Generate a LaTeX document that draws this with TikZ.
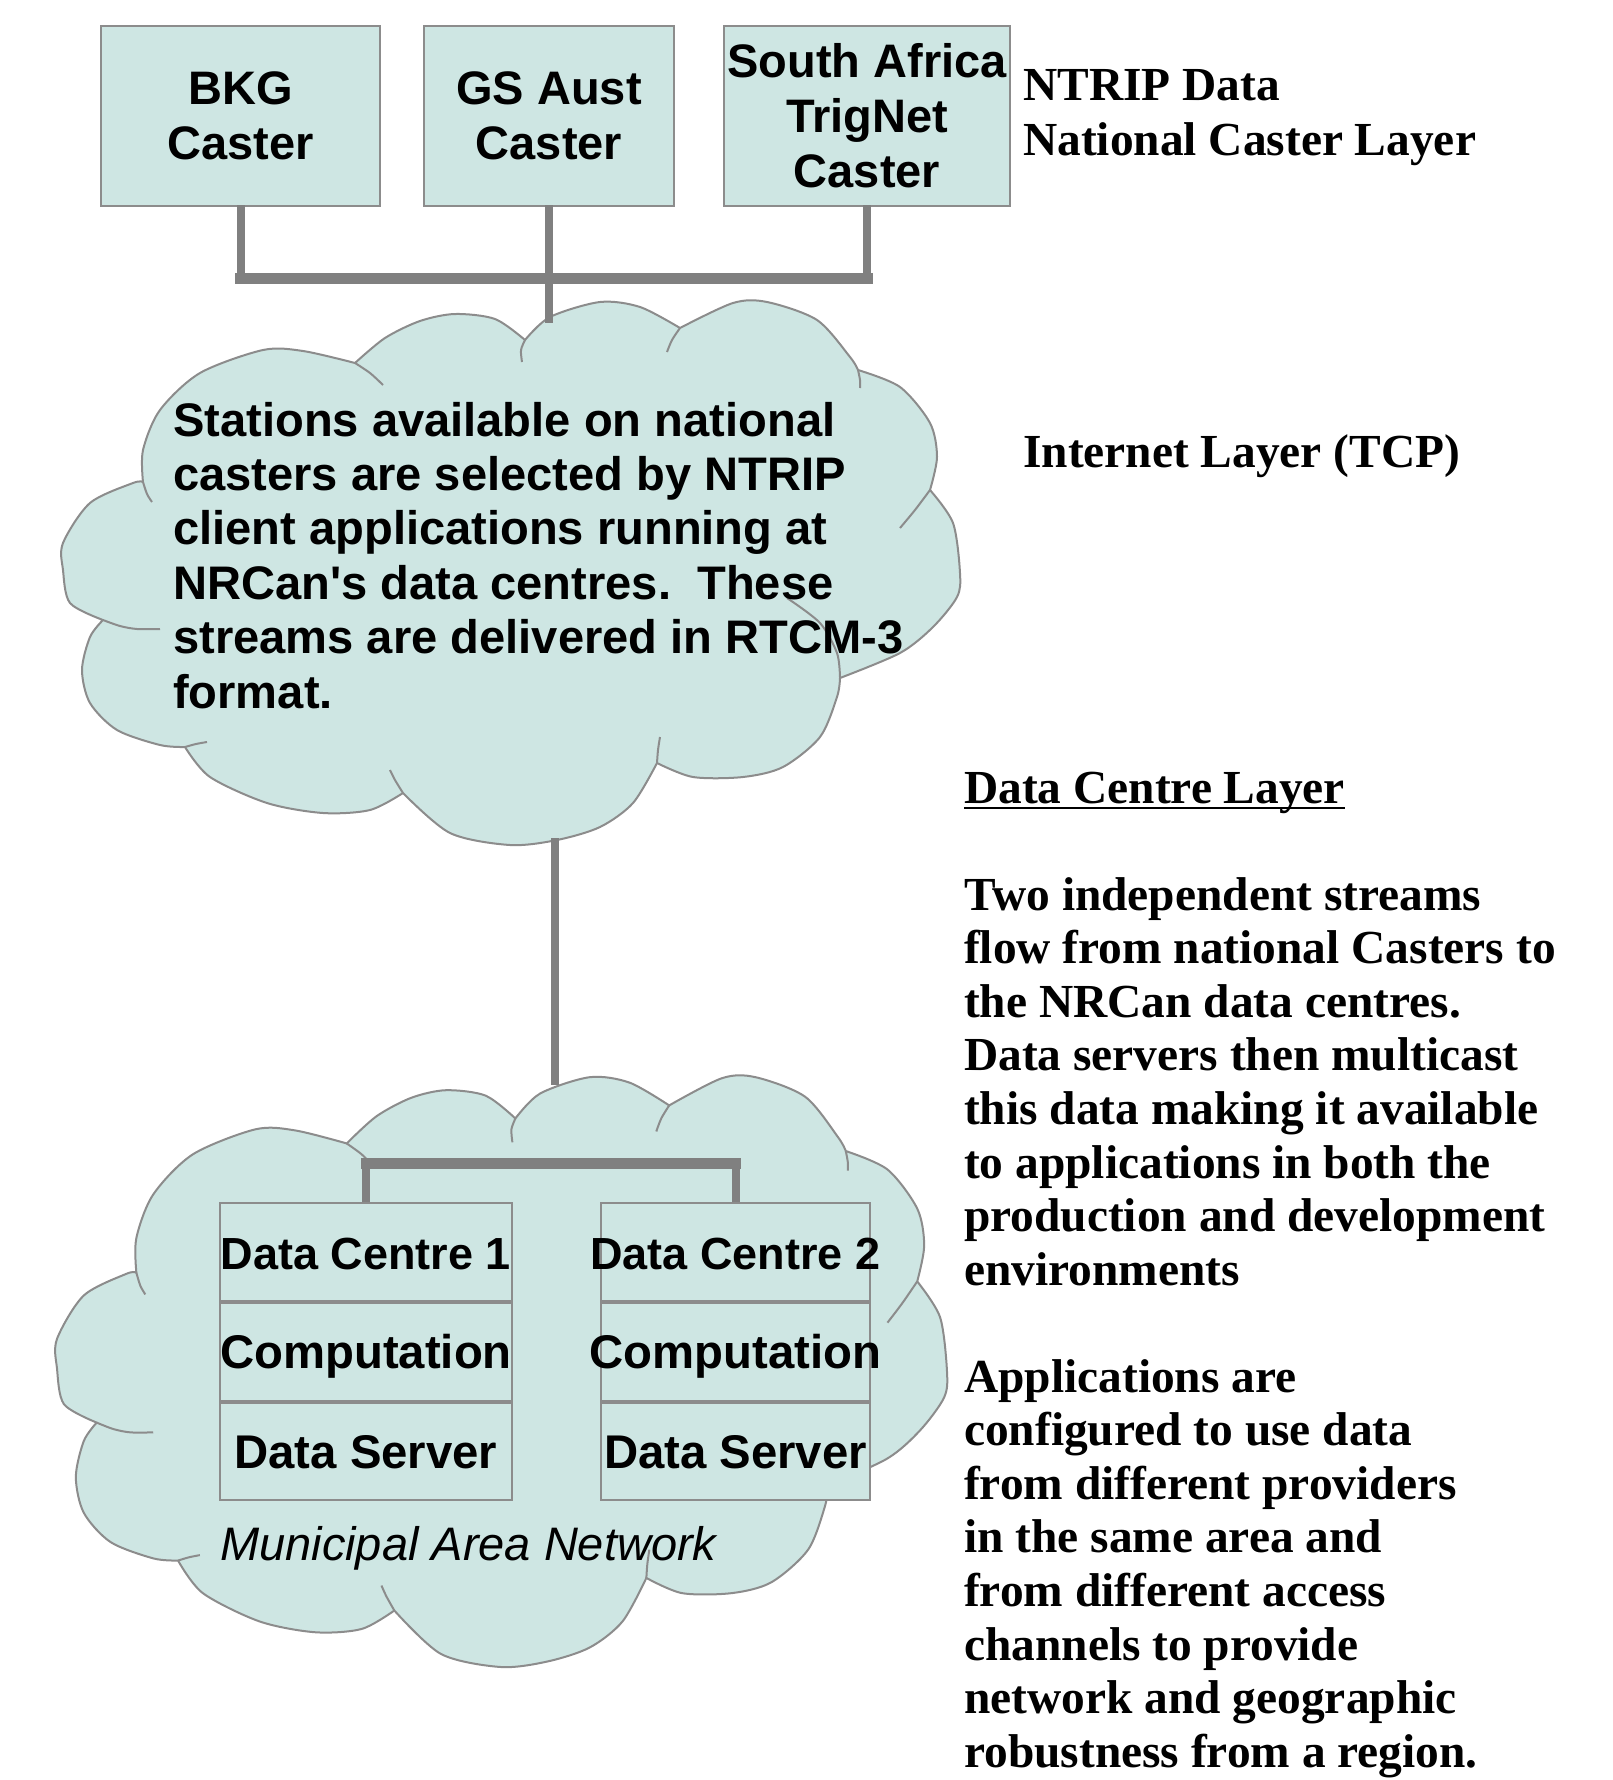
\documentclass[tikz,border=0pt]{standalone}
\usepackage{fontspec}
\newfontfamily\sansf{Liberation Sans}
\newfontfamily\seriff{Liberation Serif}
\definecolor{cloudfill}{RGB}{206,230,227}
\definecolor{edgegray}{RGB}{140,140,140}
\definecolor{linkgray}{RGB}{128,128,128}
\tikzset{
  cloudedge/.style={draw=edgegray, line width=2pt, line join=round},
  casterbox/.style={draw=edgegray, line width=2pt, fill=cloudfill, inner sep=0pt, align=center,
    minimum height=180pt, font=\sansf\bfseries\fontsize{47}{55}\selectfont},
  dcbox/.style={draw=edgegray, line width=2pt, fill=cloudfill, inner sep=0pt,
    minimum height=97.7pt, text height=34pt, text depth=0pt},
  dcfonta/.style={font=\sansf\bfseries\fontsize{45}{54}\selectfont},
  dcfontb/.style={font=\sansf\bfseries\fontsize{47.3}{54}\selectfont},
  link/.style={draw=linkgray, line width=8pt},
  bar/.style={draw=linkgray, line width=11pt, line cap=rect},
  cloudtext/.style={anchor=base west, inner sep=0pt, font=\sansf\bfseries\fontsize{47.1}{54}\selectfont},
  sidetext/.style={anchor=base west, inner sep=0pt, font=\seriff\bfseries\fontsize{47.4}{53.6}\selectfont},
  cloudpic/.pic={
    \draw[cloudedge, fill=cloudfill] (103,620)
      -- plot[smooth] coordinates {(103,620) (70,603) (63,570) (63,543) (90,503) (133,483) (143,482)}
      -- plot[smooth] coordinates {(143,482) (143,450) (160,410) (200,373) (263,350) (303,351) (355,363)}
      -- plot[smooth] coordinates {(355,363) (385,338) (420,321) (455,314) (495,319) (525,340)}
      -- plot[smooth] coordinates {(525,340) (550,317) (600,302) (640,307) (680,328)}
      -- plot[smooth] coordinates {(680,328) (733,303) (767,302) (817,320) (850,357) (858,370)}
      -- plot[smooth] coordinates {(858,370) (900,387) (930,423) (937,457) (930,490)}
      -- plot[smooth] coordinates {(930,490) (953,523) (960,573) (957,597) (933,627) (900,653) (840,678)}
      -- plot[smooth] coordinates {(840,678) (837,697) (820,737) (783,767) (743,777) (693,777) (657,763)}
      -- plot[smooth] coordinates {(657,763) (633,803) (600,827) (557,840) (510,845) (450,833) (403,793)}
      -- plot[smooth] coordinates {(403,793) (370,810) (323,813) (267,803) (210,777) (185,747)}
      -- plot[smooth] coordinates {(185,747) (160,745) (117,730) (90,703) (82,670) (90,637) (103,620)}
      -- cycle;
    \draw[cloudedge] plot[smooth] coordinates {(143,482) (147,494) (152,502)};
    \draw[cloudedge] plot[smooth] coordinates {(355,363) (370,373) (383,385)};
    \draw[cloudedge] plot[smooth] coordinates {(525,340) (521,350) (522,362)};
    \draw[cloudedge] plot[smooth] coordinates {(680,328) (672,340) (667,352)};
    \draw[cloudedge] plot[smooth] coordinates {(858,370) (860,380) (860,388)};
    \draw[cloudedge] plot[smooth] coordinates {(930,490) (915,510) (900,528)};
    \draw[cloudedge] plot[smooth] coordinates {(840,678) (837,653) (820,623) (787,598)};
    \draw[cloudedge] plot[smooth] coordinates {(657,763) (658,750) (660,737)};
    \draw[cloudedge] plot[smooth] coordinates {(403,793) (395,780) (390,770)};
    \draw[cloudedge] plot[smooth] coordinates {(185,747) (196,744) (207,742)};
    \draw[cloudedge] plot[smooth] coordinates {(103,620) (120,626) (137,629) (160,629)};
  }
}
\begin{document}
\begin{tikzpicture}[x=1pt, y=-1pt]
\useasboundingbox[fill=white] (0,0) rectangle (1613,1780);

% clouds
\pic {cloudpic};
\begin{scope}[shift={(56,1075)}, xscale=0.9922, yscale=1.0862, shift={(-62,-300)}]
  \pic[transform shape] at (0,0) {cloudpic};
\end{scope}

% caster layer
\node[casterbox, minimum width=279pt] (bkg) at (240.5,116) {BKG\\Caster};
\node[casterbox, minimum width=250pt] (gs) at (549,116) {GS Aust\\Caster};
\node[casterbox, minimum width=286pt] (sa) at (867,116) {South Africa\\TrigNet\\Caster};

\coordinate (bus) at (549,278);
\coordinate (c1top) at (549,323);
\coordinate (c1bot) at (555,838);
\coordinate (c2top) at (555,1085);

\draw[link] (bkg.south |- 0,205) -- (bkg.south |- bus);
\draw[link] (sa.south |- 0,205) -- (sa.south |- bus);
\draw[bar] (bkg.south |- bus) -- (sa.south |- bus);
\draw[link] (gs.south |- 0,205) -- (c1top);
\draw[link] (c1bot) -- (c2top);

% cloud 1 text
\foreach \t [count=\i] in {Stations available on national,
  casters are selected by NTRIP,
  client applications running at,
  NRCan's data centres.\ \ These,
  streams are delivered in RTCM-3,
  format.}
  \node[cloudtext] (ct\i) at (173, 436+54.4*\i-54.4) {\t};

% data centres
\node[dcbox, dcfonta, minimum width=292pt] (dc1a) at (366,1252) {\makebox[0pt]{Data Centre 1}};
\node[dcbox, dcfontb, minimum width=292pt, anchor=north] (dc1b) at (dc1a.south) {\makebox[0pt]{Computation}};
\node[dcbox, dcfontb, minimum width=292pt, anchor=north] (dc1c) at (dc1b.south) {\makebox[0pt]{Data Server}};
\node[dcbox, dcfonta, minimum width=269pt] (dc2a) at (735.5,1252) {\makebox[0pt]{Data Centre 2}};
\node[dcbox, dcfontb, minimum width=269pt, anchor=north] (dc2b) at (dc2a.south) {\makebox[0pt]{Computation}};
\node[dcbox, dcfontb, minimum width=269pt, anchor=north] (dc2c) at (dc2b.south) {\makebox[0pt]{Data Server}};

\coordinate (dcbus) at (550,1163);
\draw[link] (dc1a.north) -- (dc1a.north |- dcbus);
\draw[link] (dc2a.north) -- (dc2a.north |- dcbus);
\draw[bar] (dc1a.north |- dcbus) -- (dc2a.north |- dcbus);

\node[anchor=base west, inner sep=0pt, font=\sansf\itshape\fontsize{47}{54}\selectfont] (man) at (220,1560) {Municipal Area Network};

% side texts
\node[sidetext] (ntrip1) at (1023,100) {NTRIP Data};
\node[sidetext] (ntrip2) at (1023,155) {National Caster Layer};
\node[sidetext] (inet) at (1023,467) {Internet Layer (TCP)};
\node[sidetext] (dcl) at (964,803) {Data Centre Layer};
\draw[line width=2.5pt] ([yshift=-5pt]dcl.base west) -- ([yshift=-5pt]dcl.base east);

\foreach \t [count=\i] in {Two independent streams,
  flow from national Casters to,
  the NRCan data centres.,
  Data servers then multicast,
  this data making it available,
  to applications in both the,
  production and development,
  environments}
  \node[sidetext] (pa\i) at (964, 910+53.6*\i-53.6) {\t};

\foreach \t [count=\i] in {Applications are,
  configured to use data,
  from different providers,
  in the same area and,
  from different access,
  channels to provide,
  network and geographic,
  robustness from a region.}
  \node[sidetext] (pb\i) at (964, 1392+53.6*\i-53.6) {\t};
\end{tikzpicture}
\end{document}
